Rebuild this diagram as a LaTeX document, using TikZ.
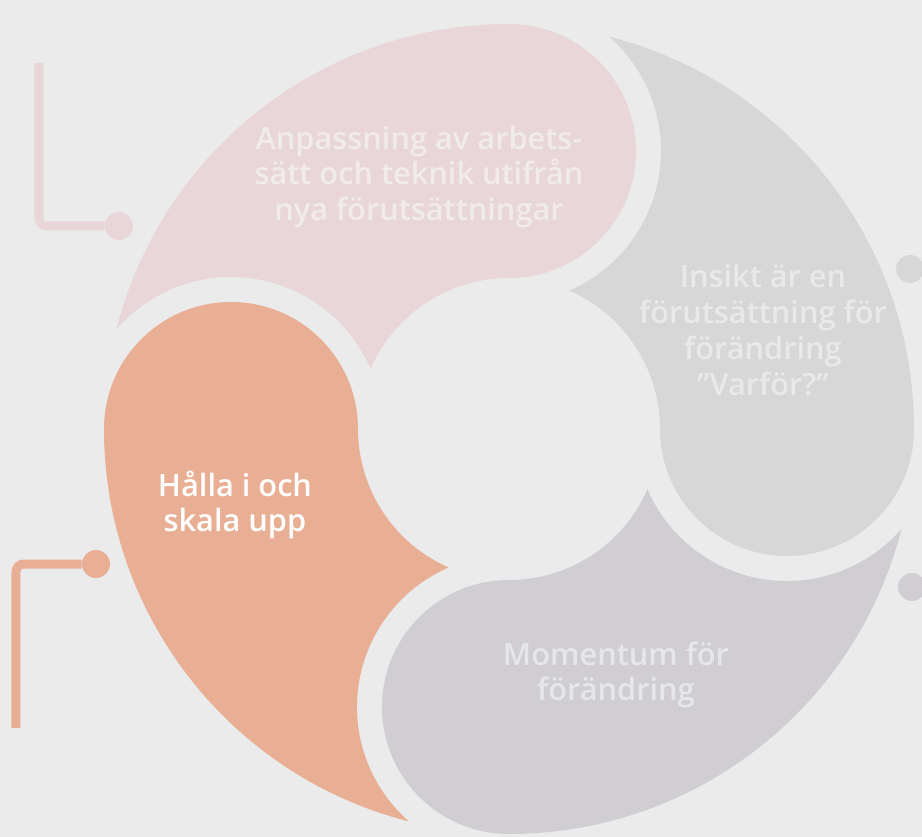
\documentclass[tikz,border=0pt]{standalone}
\usepackage{fontspec}
\setmainfont{Open Sans}[BoldFont={Open Sans Semibold}]
\definecolor{Fondo}{HTML}{EBEBEB}
\definecolor{rosa}{HTML}{E8D6D9}
\definecolor{korall}{HTML}{E9AF94}
\definecolor{gra}{HTML}{D7D7D7}
\definecolor{lila}{HTML}{D0CED3}
\definecolor{rosatext}{HTML}{F2EBEC}
\definecolor{gratext}{HTML}{E9E9E9}
\definecolor{lilatext}{HTML}{E7E6E9}
\tikzset{
  etikett/.style = {align=center, inner sep=0pt,
                    font=\bfseries\fontsize{17.5}{20.4}\selectfont},
  prick/.style   = {circle, fill=#1, minimum size=5.6mm, inner sep=0pt},
  stapel/.style  = {line width=1.8mm, rounded corners=1.6mm},
}
% one swirl segment: #1 = angle of its head, #2 = fill
\newcommand{\virvel}[2]{%
  \fill[#2] (#1+90-\dYtter:\Ry)
    arc[start angle=#1+90-\dYtter, end angle=#1, radius=\Ry]
    arc[start angle=#1, end angle=#1-180, radius=\Rh]
    arc[start angle=#1, end angle=#1+90-\dInre, radius=\Ri]
    arc[start angle=#1-90+\aInre, end angle=#1-90+\aYtter, radius=\Rh+\Gp]
    -- cycle;}

\begin{document}
\begin{tikzpicture}[x=2mm, y=2mm]
  % radii: outer ring, hole, head, head centres, gap
  \def\Ry{40.5} \def\Ri{15.1} \def\Rh{12.7} \def\Rm{27.8} \def\Gp{2.5}
  \pgfmathsetmacro\dYtter{acos((\Ry*\Ry+\Rm*\Rm-(\Rh+\Gp)^2)/(2*\Ry*\Rm))}
  \pgfmathsetmacro\dInre{acos((\Ri*\Ri+\Rm*\Rm-(\Rh+\Gp)^2)/(2*\Ri*\Rm))}
  \pgfmathsetmacro\aInre{atan2(\Ri*sin(\dInre), \Rm-\Ri*cos(\dInre))}
  \pgfmathsetmacro\aYtter{atan2(\Ry*sin(\dYtter), \Rm-\Ry*cos(\dYtter))}

  \useasboundingbox (-50.9,-40.8) rectangle (41.3,42.9);
  \fill[Fondo] (-50.9,-40.8) rectangle (41.3,42.9);

  \virvel{90}{rosa}
  \virvel{0}{gra}
  \virvel{-90}{lila}
  \virvel{180}{korall}

  \node[etikett, text=rosatext] (anpassning) at (-9.0,25.2)
    {Anpassning av arbets-\\sätt och teknik utifrån\\nya förutsättningar};
  \node[etikett, text=gratext] (insikt) at (25.4,9.9)
    {Insikt är en\\förutsättning för\\förändring\\”Varför?”};
  \node[etikett, text=white] (halla) at (-27.4,-7.6) {Hålla i och\\skala upp};
  \node[etikett, text=lilatext] (momentum) at (10.7,-24.6) {Momentum för\\förändring};

  % callout stubs
  \node[prick=rosa] (p1) at (-39.0,20.3) {};
  \coordinate (p1knut) at (-47.0,20.3);
  \coordinate (p1topp) at (-47.0,36.6);
  \draw[stapel, rosa] (p1) -- (p1knut) -- (p1topp);

  \node[prick=korall] (p2) at (-41.3,-13.5) {};
  \coordinate (p2knut) at (-49.3,-13.5);
  \coordinate (p2botten) at (-49.3,-29.9);
  \draw[stapel, korall] (p2) -- (p2knut) -- (p2botten);

  \node[prick=gra] (p3) at (40.1,16.0) {};
  \node[prick=lila] (p4) at (40.3,-15.8) {};
\end{tikzpicture}
\end{document}
